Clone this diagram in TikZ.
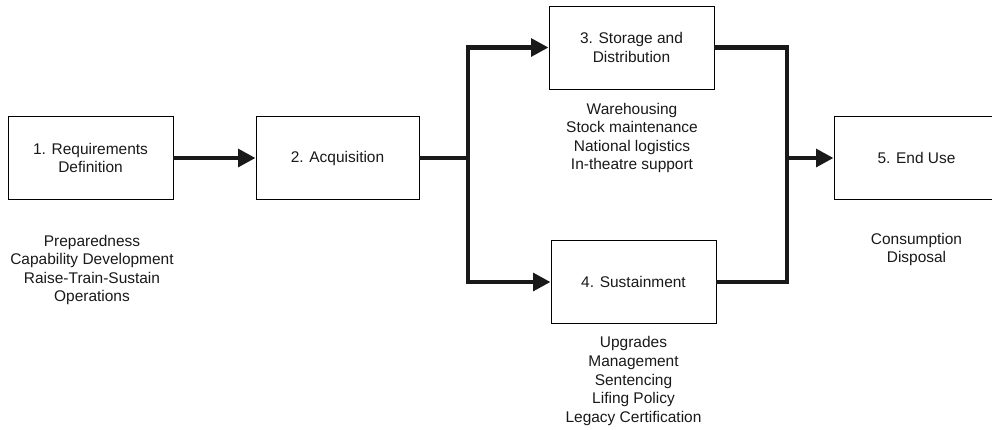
\documentclass[tikz,border=0pt]{standalone}
\usepackage{fontspec}
\setmainfont{Liberation Sans}
\usetikzlibrary{arrows.meta}
\begin{document}
\begin{tikzpicture}[x=0.75pt,y=-0.75pt,
  every node/.style={font=\fontsize{11.6}{13.9}\selectfont, text=black!90},
  stagebox/.style={draw=black, line width=0.7pt, minimum width=123.75pt, minimum height=62.25pt, inner sep=0pt, align=center},
  lbl/.style={align=center, inner sep=0pt},
  conn/.style={line width=3.3pt, draw=black!90, line join=miter},
  tip/.style={-{Triangle[length=13pt,width=13pt]}}
]
\useasboundingbox (0,0) rectangle (992,429);
\clip (0,0) rectangle (992,429);

\node[stagebox] (box1) at (90.5,158) {1. Requirements\\Definition};
\node[stagebox, minimum width=122.25pt] (box2) at (337.5,158) {2. Acquisition};
\node[stagebox] (box3) at (631.5,47.5) {3. Storage and\\Distribution};
\node[stagebox] (box4) at (633.5,282) {4. Sustainment};
\node[stagebox] (box5) at (916.5,158) {5. End Use};

\node[lbl] (lab1) at (92,270) {Preparedness\\Capability Development\\Raise-Train-Sustain\\Operations};
\node[lbl] (lab3) at (632,138) {Warehousing\\Stock maintenance\\National logistics\\In-theatre support};
\node[lbl] (lab4) at (633.5,381) {Upgrades\\Management\\Sentencing\\Lifing Policy\\Legacy Certification};
\node[lbl] (lab5) at (916.5,249.5) {Consumption\\Disposal};

\coordinate (splitL) at (468,158);
\coordinate (joinR) at (787,158);

\draw[conn,tip] (box1.east) -- (box2.west);
\draw[conn] (box2.east) -- (splitL);
\draw[conn,{Triangle[length=13pt,width=13pt]}-{Triangle[length=13pt,width=13pt]}] (box3.west) -| (splitL) |- (box4.west);
\draw[conn] (box3.east) -| (joinR) |- (box4.east);
\draw[conn,tip] (joinR) -- (box5.west);
\end{tikzpicture}
\end{document}
